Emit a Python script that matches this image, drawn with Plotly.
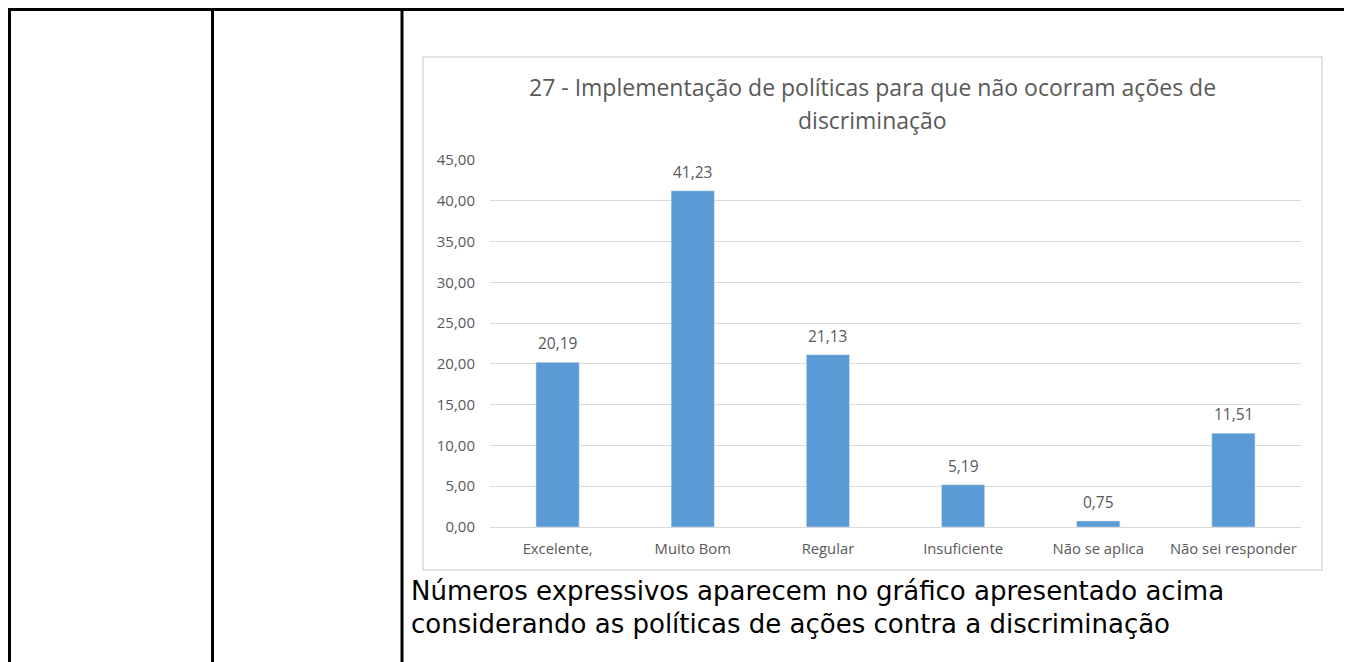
import plotly.graph_objects as go

# The page body adds an 8px offset, so the figure covers page pixels 8..1352 x 8..662
OFF = 8
W, H = 1352 - OFF, 662 - OFF

categories = ["Excelente,", "Muito Bom", "Regular", "Insuficiente", "Não se aplica", "Não sei responder"]
values = [20.19, 41.23, 21.13, 5.19, 0.75, 11.51]
value_labels = ["20,19", "41,23", "21,13", "5,19", "0,75", "11,51"]
y_ticks = [0, 5, 10, 15, 20, 25, 30, 35, 40, 45]
y_tick_labels = ["0,00", "5,00", "10,00", "15,00", "20,00", "25,00", "30,00", "35,00", "40,00", "45,00"]
title_lines = ["27 - Implementação de políticas para que não ocorram ações de", "discriminação"]
caption_lines = ["Números expressivos aparecem no gráfico apresentado acima",
                 "considerando as políticas de ações contra a discriminação"]


def fx(x):
    return (x - OFF) / W


def fy(y):
    return 1 - (y - OFF) / H


GRAY = "#595959"
GRID = "#D9D9D9"
BAR = "#5B9BD5"
FONT = "Open Sans"

fig = go.Figure()
fig.add_trace(go.Bar(
    x=categories, y=values, marker_color=BAR, width=0.32,
    hoverinfo="x+y",
))

shapes = []
# table borders
blk = dict(color="black", width=3)
shapes.append(dict(type="line", xref="paper", yref="paper", x0=fx(8), x1=fx(1347.5), y0=fy(9.5), y1=fy(9.5), line=blk))
for xv in [9.5, 212.5, 402, 1346.5]:
    shapes.append(dict(type="line", xref="paper", yref="paper", x0=fx(xv), x1=fx(xv), y0=fy(8), y1=fy(670), line=blk))
# chart box
shapes.append(dict(type="rect", xref="paper", yref="paper", x0=fx(423), x1=fx(1322), y0=fy(57), y1=fy(570),
                   line=dict(color=GRID, width=1.5), layer="below"))

annotations = []
for c, v, t in zip(categories, values, value_labels):
    annotations.append(dict(x=c, y=v, xref="x", yref="y", text=t, showarrow=False, yshift=19,
                            yanchor="middle", font=dict(family=FONT, size=15.5, color=GRAY)))
annotations.append(dict(x=fx(872.5), y=fy(87), xref="paper", yref="paper", text=title_lines[0], showarrow=False,
                        xanchor="center", yanchor="middle", font=dict(family=FONT, size=23, color=GRAY)))
annotations.append(dict(x=fx(872.5), y=fy(120), xref="paper", yref="paper", text=title_lines[1], showarrow=False,
                        xanchor="center", yanchor="middle", font=dict(family=FONT, size=23, color=GRAY)))
annotations.append(dict(x=fx(409), y=fy(591), xref="paper", yref="paper", text=caption_lines[0], showarrow=False,
                        xanchor="left", yanchor="middle", font=dict(family="DejaVu Sans", size=26, color="black")))
annotations.append(dict(x=fx(409), y=fy(624), xref="paper", yref="paper", text=caption_lines[1], showarrow=False,
                        xanchor="left", yanchor="middle", font=dict(family="DejaVu Sans", size=26, color="black")))

fig.update_layout(
    width=W, height=H,
    margin=dict(l=0, r=0, t=0, b=0, pad=0, autoexpand=False),
    paper_bgcolor="white", plot_bgcolor="white",
    showlegend=False,
    bargap=0.68,
    shapes=shapes,
    annotations=annotations,
    xaxis=dict(domain=[fx(490), fx(1301)], showgrid=False, showline=True, linecolor=GRID, linewidth=1,
               automargin=False,
               ticks="", tickfont=dict(family=FONT, size=14.8, color=GRAY), ticklabelstandoff=8,
               fixedrange=True),
    yaxis=dict(domain=[fy(527), fy(160)], range=[0, 45], tickvals=y_ticks, ticktext=y_tick_labels,
               automargin=False,
               showgrid=True, gridcolor=GRID, gridwidth=1, zeroline=True, zerolinecolor=GRID, zerolinewidth=1,
               showline=False, ticks="", tickfont=dict(family=FONT, size=15, color=GRAY),
               ticklabelstandoff=14, fixedrange=True),
)

fig.write_html("out.html")
